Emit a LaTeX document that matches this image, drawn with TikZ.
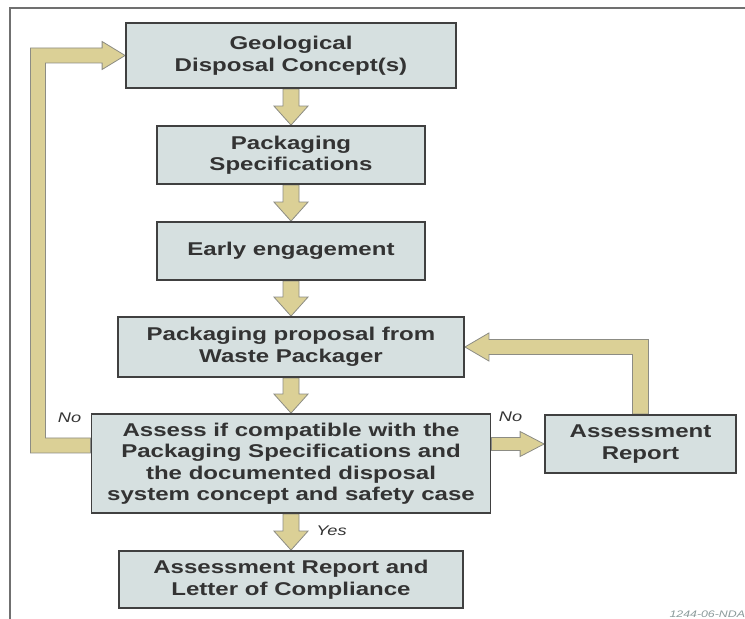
\documentclass[tikz,border=0pt]{standalone}
\usepackage{fontspec}
\setmainfont{Liberation Sans}[FakeStretch=1.3]
\usepackage{tikz}
\usetikzlibrary{calc,backgrounds}

\definecolor{boxfill}{HTML}{D6E0E0}
\definecolor{boxline}{HTML}{404040}
\definecolor{arrowfill}{HTML}{DBD096}
\definecolor{arrowline}{HTML}{8C8C84}
\definecolor{textgray}{HTML}{333333}
\definecolor{framegray}{HTML}{707070}
\definecolor{idgray}{HTML}{8A9A9A}

\newcommand{\blockdown}[2]{%
  \draw[blockarrow] let \p1=(#1.south), \p2=(#2.north) in
    (\x1-8pt,\y1) -- (\x1-8pt,\y2+19pt) -- (\x1-17pt,\y2+19pt) -- (\x1,\y2)
    -- (\x1+17pt,\y2+19pt) -- (\x1+8pt,\y2+19pt) -- (\x1+8pt,\y1) -- cycle;}

\begin{document}
\begin{tikzpicture}[x=1pt,y=1pt,node distance=96pt,
    stage/.style={draw=boxline,line width=1.8pt,fill=boxfill,text=textgray,
      align=center,inner sep=0pt,font=\fontsize{18.5}{21.5}\selectfont\bfseries},
    blockarrow/.style={draw=arrowline,fill=arrowfill,line width=0.8pt,line join=miter},
    answer/.style={text=textgray,font=\fontsize{14}{16}\selectfont\itshape}]
  \useasboundingbox (0,0) rectangle (745,619);
  \draw[framegray,line width=1.5pt] (10,0) -- (10,611) -- (745,611);

  \node[stage,minimum width=330pt,minimum height=65pt] (geo) at (291,563.5)
    {Geological\\Disposal Concept(s)};
  \node[stage,minimum width=268pt,minimum height=58pt] (spec) [below of=geo,node distance=99.5pt]
    {Packaging\\Specifications};
  \node[stage,minimum width=268pt,minimum height=58pt] (early) [below of=spec]
    {Early engagement};
  \node[stage,minimum width=346pt,minimum height=60pt] (proposal) [below of=early]
    {Packaging proposal from\\Waste Packager};
  \node[stage,minimum width=399pt,minimum height=99pt] (assess) [below of=proposal,node distance=116.5pt]
    {Assess if compatible with the\\Packaging Specifications and\\the documented disposal\\system concept and safety case};
  \node[stage,minimum width=344pt,minimum height=57pt] (final) [below of=assess,node distance=116pt]
    {Assessment Report and\\Letter of Compliance};
  \node[stage,minimum width=191pt,minimum height=58pt] (report) [right of=assess,node distance=349.5pt,yshift=19.5pt]
    {Assessment\\Report};

  \node[answer] (noleft)  at (69.5,201) {No};
  \node[answer] (noright) at (510.5,202.5) {No};
  \node[answer] (yes)     at (331.5,88) {Yes};
  \node[anchor=west,text=idgray,font=\fontsize{9.5}{11}\selectfont\itshape] (drawingno)
    at (666,5) {1244-06-NDA};

  \begin{scope}[on background layer]
    \blockdown{geo}{spec}
    \blockdown{spec}{early}
    \blockdown{early}{proposal}
    \blockdown{proposal}{assess}
    \blockdown{assess}{final}
    % No: back to the concept
    \draw[blockarrow] let \p1=(assess.west), \p2=(geo.west) in
      (\x1,\y1+10.5pt) -- (30.5pt,\y1+10.5pt) -- (30.5pt,\y2+7.5pt)
      -- (\x2-23pt,\y2+7.5pt) -- (\x2-23pt,\y2+14pt) -- (\x2,\y2)
      -- (\x2-23pt,\y2-14pt) -- (\x2-23pt,\y2-7.5pt) -- (45.5pt,\y2-7.5pt)
      -- (45.5pt,\y1+25.5pt) -- (\x1,\y1+25.5pt) -- cycle;
    % No: to the assessment report
    \draw[blockarrow] let \p1=(assess.east), \p2=(report.west) in
      (\x1,\y2-6.5pt) -- (\x2-24pt,\y2-6.5pt) -- (\x2-24pt,\y2-12.5pt) -- (\x2,\y2)
      -- (\x2-24pt,\y2+12.5pt) -- (\x2-24pt,\y2+6.5pt) -- (\x1,\y2+6.5pt) -- cycle;
    % report back to the proposal
    \draw[blockarrow] let \p1=(report.north), \p2=(proposal.east) in
      (\x1-8pt,\y1) -- (\x1-8pt,\y2-7.5pt) -- (\x2+24pt,\y2-7.5pt) -- (\x2+24pt,\y2-14pt)
      -- (\x2,\y2) -- (\x2+24pt,\y2+14pt) -- (\x2+24pt,\y2+7.5pt)
      -- (\x1+8pt,\y2+7.5pt) -- (\x1+8pt,\y1) -- cycle;
  \end{scope}
\end{tikzpicture}
\end{document}
